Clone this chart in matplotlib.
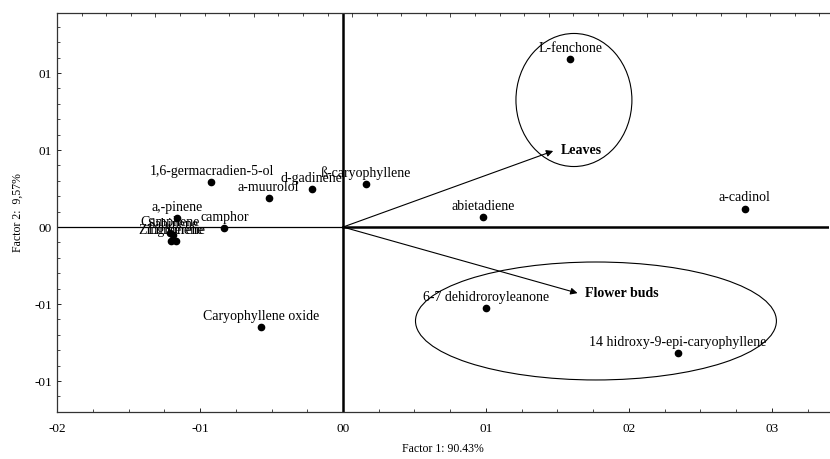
import matplotlib.pyplot as plt
from matplotlib.patches import Ellipse

plt.rcParams['font.family'] = ['Liberation Serif', 'DejaVu Serif']

# compounds (factor 1, factor 2)
names = ["L-fenchone", "a-cadinol", "abietadiene", "ß-caryophyllene", "d-gadinene",
         "a-muurolol", "1,6-germacradien-5-ol", "camphor", "a,-pinene", "Camphene",
         "Sabinene", "Zingiberene", "Limonene", "Caryophyllene oxide",
         "6-7 dehidroroyleanone", "14 hidroxy-9-epi-caryophyllene"]
f1 = [0.159, 0.281, 0.098, 0.016, -0.022, -0.052, -0.092, -0.083, -0.116, -0.121,
      -0.119, -0.120, -0.117, -0.057, 0.100, 0.234]
f2 = [0.109, 0.012, 0.0065, 0.028, 0.0245, 0.0188, 0.0292, -0.0006, 0.006, -0.004,
      -0.005, -0.009, -0.009, -0.065, -0.0526, -0.0818]

# variables (arrows)
vars_ = ["Leaves", "Flower buds"]
v1 = [0.147, 0.164]
v2 = [0.0494, -0.0429]

xticks = [-0.2, -0.1, 0.0, 0.1, 0.2, 0.3]
xlabels = ["-02", "-01", "00", "01", "02", "03"]
yticks = [-0.1, -0.05, 0.0, 0.05, 0.1]
ylabels = ["-01", "-01", "00", "01", "01"]

fig = plt.figure(figsize=(8.3, 4.59), dpi=100)
ax = fig.add_axes([0.0687, 0.1024, 0.9303, 0.8693])
ax.set_xlim(-0.2, 0.34)
ax.set_ylim(-0.1201, 0.139)

# zero lines
ax.plot([-0.2, 0], [0, 0], color="black", lw=0.9, zorder=1)
ax.plot([0, 0.34], [0, 0], color="black", lw=1.8, zorder=1)
ax.axvline(0, color="black", lw=1.8, zorder=1)

ax.plot(f1, f2, "o", color="black", ms=4.5, zorder=3)
for n, x, y in zip(names, f1, f2):
    ax.annotate(n, (x, y), xytext=(0, 3), textcoords="offset points",
                ha="center", va="bottom", fontsize=10, zorder=4)

for n, x, y in zip(vars_, v1, v2):
    ax.annotate("", xy=(x, y), xytext=(0, 0),
                arrowprops=dict(arrowstyle="-|>", color="black", lw=0.8,
                                mutation_scale=10, shrinkA=0, shrinkB=0))
    ax.text(x + 0.005, y, n, fontsize=10, fontweight="bold", ha="left", va="center")

ax.add_patch(Ellipse((0.1615, 0.0825), 0.0811, 0.0864, fill=False, lw=0.8, color="black"))
ax.add_patch(Ellipse((0.1769, -0.0610), 0.2524, 0.0766, fill=False, lw=0.8, color="black"))

ax.set_xticks(xticks)
ax.set_xticklabels(xlabels)
ax.set_yticks(yticks)
ax.set_yticklabels(ylabels)
ax.set_xticks([-0.2 + 0.025 * i for i in range(22)], minor=True)
ax.set_yticks([-0.12 + 0.01 * i for i in range(26)], minor=True)
ax.tick_params(which="both", direction="in", labelsize=9.5, top=False, right=False)
ax.tick_params(which="major", length=3, width=0.6)
ax.tick_params(which="minor", length=2, width=0.5)
ax.tick_params(axis="x", pad=8)
ax.spines["right"].set_visible(False)
for s in ["left", "bottom", "top"]:
    ax.spines[s].set_linewidth(0.9)
    ax.spines[s].set_color("#333333")

ax.set_xlabel("Factor 1: 90.43%", fontsize=8.5, labelpad=6)
ax.set_ylabel("Factor 2:  9,57%", fontsize=8.5, labelpad=8)

# top axis ticks
top = ax.twiny()
top.set_xlim(0, 31.4)
top.set_xticks(range(4, 32, 4))
top.set_xticks(range(1, 32), minor=True)
top.set_xticklabels([])
top.tick_params(which="both", direction="in", width=0.5)
top.tick_params(which="major", length=3)
top.tick_params(which="minor", length=2)
for s in top.spines.values():
    s.set_visible(False)

fig.savefig("out.png", dpi=100)
